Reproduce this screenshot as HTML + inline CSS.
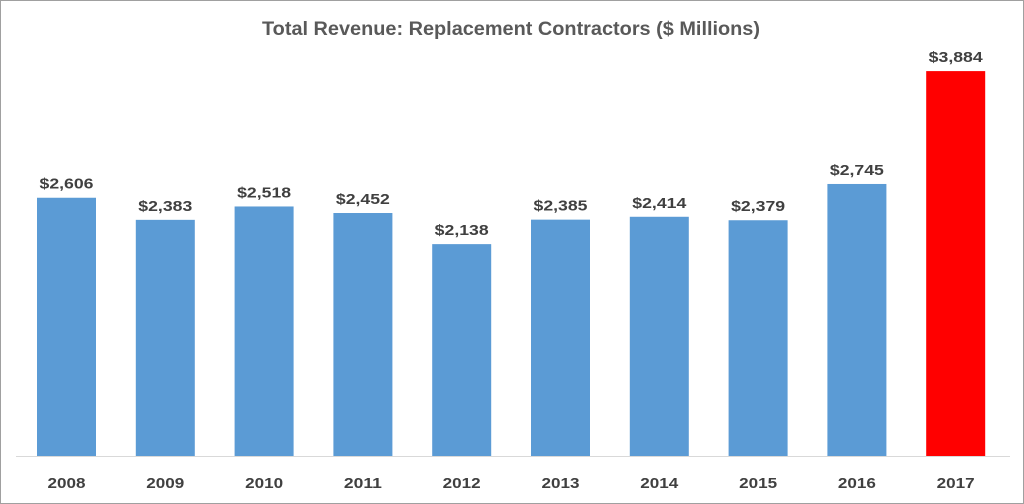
<!DOCTYPE html>
<html><head><meta charset="utf-8"><style>
html,body{margin:0;padding:0;background:#fff}
svg{display:block}
text{font-family:"Liberation Sans",sans-serif;font-weight:bold;fill:#404040}
</style></head><body>
<svg width="1024" height="504" viewBox="0 0 1024 504" xmlns="http://www.w3.org/2000/svg">
<rect x="0.5" y="0.5" width="1023" height="503" fill="#fff" stroke="#a0a0a0"/>
<text x="511" y="35" font-size="19" text-anchor="middle" textLength="498" lengthAdjust="spacingAndGlyphs" fill="#595959" style="fill:#595959">Total Revenue: Replacement Contractors ($ Millions)</text>
<line x1="16" y1="456.5" x2="1010" y2="456.5" stroke="#d9d9d9" stroke-width="1"/>
<g id="bars"></g>
</svg>
<script>
var d=[[2008,2606],[2009,2383],[2010,2518],[2011,2452],[2012,2138],[2013,2385],[2014,2414],[2015,2379],[2016,2745],[2017,3884]];
var s='';
d.forEach(function(e,i){
var x=37+i*98.8, t=456-e[1]*0.0991, c=x+29.5;
var v='$'+String(e[1]).replace(/(\d)(\d{3})$/,'$1,$2');
s+='<rect x="'+x+'" y="'+t+'" width="59" height="'+(456-t)+'" fill="'+(i==9?'#ff0000':'#5b9bd5')+'"/>';
s+='<text x="'+c+'" y="'+(t-9)+'" font-size="15" text-anchor="middle" textLength="54" lengthAdjust="spacingAndGlyphs">'+v+'</text>';
s+='<text x="'+c+'" y="488" font-size="15" text-anchor="middle" textLength="38" lengthAdjust="spacingAndGlyphs">'+e[0]+'</text>';
});
document.getElementById('bars').innerHTML=s;
</script>
</body></html>
